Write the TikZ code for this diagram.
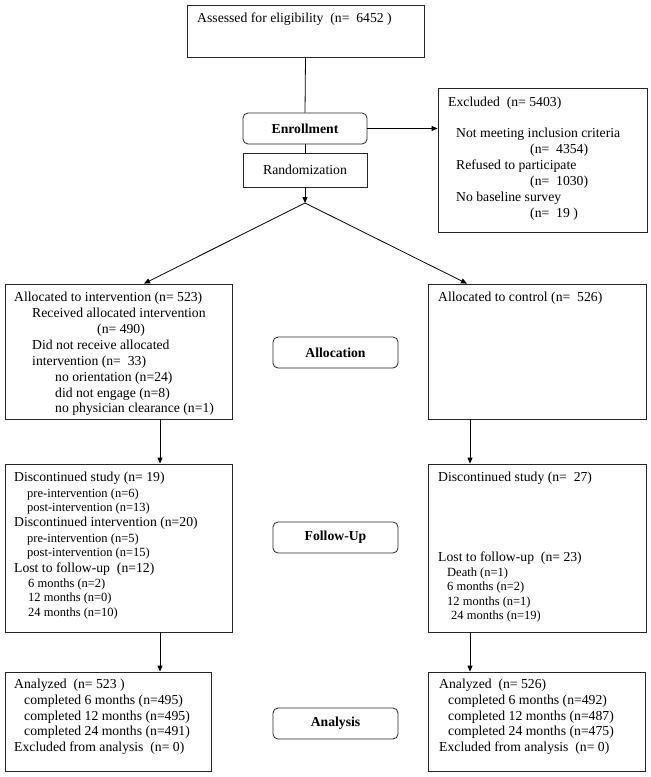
\documentclass[tikz,border=0pt]{standalone}
\usepackage{fontspec}
\setmainfont{Liberation Serif}
\usetikzlibrary{arrows.meta,calc}
\begin{document}
\begin{tikzpicture}[x=1pt,y=-1pt,
  box/.style={draw=black!85, line width=0.8pt, inner sep=0, rectangle},
  rbox/.style={box, rounded corners=5pt, font=\fontsize{13.7}{15.8}\selectfont\bfseries},
  tl/.style={anchor=base west, inner sep=0, font=\fontsize{13.7}{15.8}\selectfont},
  ts/.style={anchor=base west, inner sep=0, font=\fontsize{12.5}{14.5}\selectfont},
  ln/.style={line width=0.8pt, black},
  arr/.style={ln, -{Triangle[length=6pt,width=5pt]}}]
\useasboundingbox (0,0) rectangle (651,777);
% boxes
\node[box, minimum width=237, minimum height=52] (assess) at (305.5,31) {};
\node[rbox, minimum width=124, minimum height=31] (enroll) at (305,128.5) {Enrollment};
\node[box, minimum width=124, minimum height=34, font=\fontsize{13.7}{15.8}\selectfont] (random) at (305,170) {Randomization};
\node[box, minimum width=209, minimum height=144] (excl) at (542.5,160) {};
\node[box, minimum width=227, minimum height=135] (allocL) at (118.5,351.5) {};
\node[box, minimum width=218, minimum height=135] (allocR) at (537,351.5) {};
\node[rbox, minimum width=125, minimum height=31] (allocation) at (335.5,352.5) {Allocation};
\node[box, minimum width=227, minimum height=168] (discL) at (118.5,548) {};
\node[box, minimum width=218, minimum height=168] (discR) at (537,548) {};
\node[rbox, minimum width=125, minimum height=31] (follow) at (335.5,537.5) {Follow-Up};
\node[box, minimum width=206, minimum height=99] (anaL) at (108,721.5) {};
\node[box, minimum width=217, minimum height=99] (anaR) at (536.5,721.5) {};
\node[rbox, minimum width=125, minimum height=31] (analysis) at (335.5,723.5) {Analysis};
% texts
\node[tl] (t0) at (197,22) {Assessed for eligibility~ (n=~ 6452 )};
\node[tl] (e0) at (448,106) {Excluded~ (n= 5403)};
\node[tl] (e1) at (456,137) {Not meeting inclusion criteria};
\node[tl] (e2) at (530,153) {(n=~ 4354)};
\node[tl] (e3) at (456,169) {Refused to participate};
\node[tl] (e4) at (530,185) {(n=~ 1030)};
\node[tl] (e5) at (456,201) {No baseline survey};
\node[tl] (e6) at (530,217) {(n=~ 19 )};
\node[tl] (a0) at (14,301) {Allocated to intervention (n= 523)};
\node[tl] (a1) at (32,317) {Received allocated intervention};
\node[tl] (a2) at (97,333) {(n= 490)};
\node[tl] (a3) at (32,349) {Did not receive allocated};
\node[tl] (a4) at (32,365) {intervention (n=~ 33)};
\node[tl] (a5) at (55,381) {no orientation (n=24)};
\node[tl] (a6) at (55,397) {did not engage (n=8)};
\node[tl] (a7) at (55,412) {no physician clearance (n=1)};
\node[tl] (b0) at (438,301) {Allocated to control (n=~ 526)};
\node[tl] (d0) at (14,481) {Discontinued study (n= 19)};
\node[ts] (d1) at (27,497) {pre-intervention (n=6)};
\node[ts] (d2) at (27,511.5) {post-intervention (n=13)};
\node[tl] (d3) at (14,526.5) {Discontinued intervention (n=20)};
\node[ts] (d4) at (27,542) {pre-intervention (n=5)};
\node[ts] (d5) at (27,556.5) {post-intervention (n=15)};
\node[tl] (d6) at (14,572) {Lost to follow-up~ (n=12)};
\node[ts] (d7) at (28,587) {6 months (n=2)};
\node[ts] (d8) at (28,601) {12 months (n=0)};
\node[ts] (d9) at (28,616) {24 months (n=10)};
\node[tl] (f0) at (438,481) {Discontinued study (n=~ 27)};
\node[tl] (f1) at (438,561) {Lost to follow-up~ (n= 23)};
\node[ts] (f2) at (447,576.5) {Death (n=1)};
\node[ts] (f3) at (447,590.5) {6 months (n=2)};
\node[ts] (f4) at (447,605.5) {12 months (n=1)};
\node[ts] (f5) at (451,619.5) {24 months (n=19)};
\node[tl] (g0) at (14,688) {Analyzed~ (n= 523 )};
\node[tl] (g1) at (24,704) {completed 6 months (n=495)};
\node[tl] (g2) at (24,720) {completed 12 months (n=495)};
\node[tl] (g3) at (24,735) {completed 24 months (n=491)};
\node[tl] (g4) at (14,751) {Excluded from analysis~ (n= 0)};
\node[tl] (h0) at (439,688) {Analyzed~ (n= 526)};
\node[tl] (h1) at (448,704) {completed 6 months (n=492)};
\node[tl] (h2) at (448,720) {completed 12 months (n=487)};
\node[tl] (h3) at (448,735) {completed 24 months (n=475)};
\node[tl] (h4) at (439,751) {Excluded from analysis~ (n= 0)};
% connectors
\coordinate (split) at (305,203);
\coordinate (tipL) at (144,0);
\coordinate (tipR) at (467,0);
\coordinate (cL) at (160,0);
\coordinate (cR) at (470,0);
\draw[ln] (assess.south) -- (enroll.north);
\draw[ln] (enroll.south) -- (random.north);
\draw[arr] (enroll.east) -- (enroll.east -| excl.west);
\draw[arr] (random.south) -- (split);
\draw[arr] (split) -- (allocL.north -| tipL);
\draw[arr] (split) -- (allocR.north -| tipR);
\draw[arr] (allocL.south -| cL) -- (discL.north -| cL);
\draw[arr] (allocR.south -| cR) -- (discR.north -| cR);
\draw[arr] (discL.south -| cL) -- (anaL.north -| cL);
\draw[arr] (discR.south -| cR) -- (anaR.north -| cR);
\end{tikzpicture}
\end{document}
